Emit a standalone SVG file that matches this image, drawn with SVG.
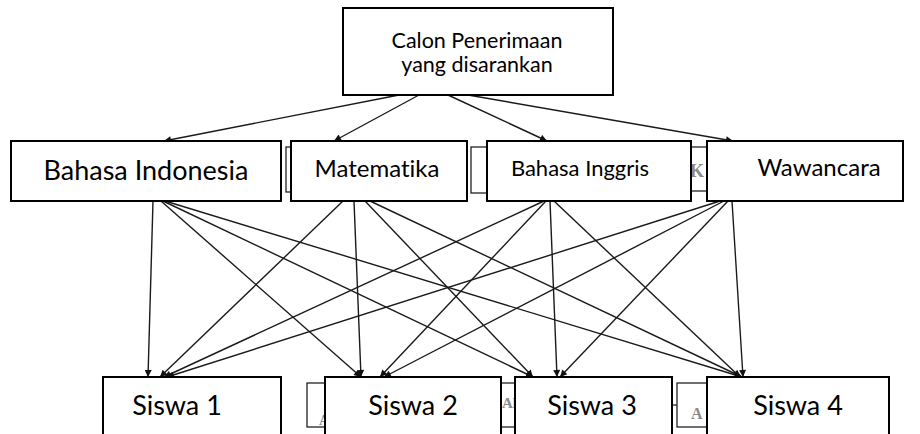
<svg xmlns="http://www.w3.org/2000/svg" width="920" height="434" viewBox="0 0 920 434">
  <style>
    .box { fill: #ffffff; stroke: #000000; stroke-width: 2; }
    .ghost { fill: #ffffff; stroke: #222222; stroke-width: 1.3; }
    .ghost-text { font-family: "Liberation Serif", serif; font-weight: bold; fill: #8a8a8a; }
    .lbl { font-family: Lato, "Open Sans", sans-serif; fill: #000000; text-anchor: middle; font-variant-ligatures: none; }
    .edge { stroke: #1a1a1a; stroke-width: 1.4; fill: none; marker-end: url(#arrow); }
  </style>
  <defs>
    <marker id="arrow" viewBox="0 0 10 10" refX="10" refY="5" markerWidth="9" markerHeight="7" markerUnits="userSpaceOnUse" orient="auto">
      <path d="M0,0 L10,5 L0,10 z" fill="#111111"/>
    </marker>
  </defs>
  <rect width="920" height="434" fill="#ffffff"/>

  <!-- partly hidden back frames -->
  <g id="back-frames">
    <rect class="ghost" x="286" y="147" width="6" height="45"/>
    <rect class="ghost" x="471" y="147" width="17" height="46"/>
    <rect class="ghost" x="690" y="147" width="18" height="44"/>
    <text class="ghost-text" x="690" y="177" font-size="18">K</text>
    <rect class="ghost" x="307" y="383" width="19" height="44"/>
    <text class="ghost-text" x="319" y="425" font-size="14">A</text>
    <rect class="ghost" x="500" y="383" width="16" height="44"/>
    <text class="ghost-text" x="502" y="408" font-size="15">Al</text>
    <line x1="672" y1="405" x2="677" y2="405" stroke="#222" stroke-width="1.3"/>
    <rect class="ghost" x="677" y="383" width="31" height="44"/>
    <text class="ghost-text" x="691" y="419" font-size="16">A</text>
  </g>

  <!-- connectors -->
  <g id="connectors">
    <line class="edge" x1="399" y1="95" x2="164" y2="141"/>
    <line class="edge" x1="419" y1="95" x2="334" y2="141"/>
    <line class="edge" x1="448" y1="95" x2="547" y2="141"/>
    <line class="edge" x1="468" y1="95" x2="733" y2="141"/>

    <line class="edge" x1="153" y1="201" x2="148" y2="377"/>
    <line class="edge" x1="161" y1="201" x2="361" y2="377"/>
    <line class="edge" x1="163" y1="201" x2="533" y2="377"/>
    <line class="edge" x1="165" y1="201" x2="742" y2="377"/>

    <line class="edge" x1="343" y1="201" x2="160" y2="377"/>
    <line class="edge" x1="354" y1="201" x2="361" y2="377"/>
    <line class="edge" x1="365" y1="201" x2="533" y2="377"/>
    <line class="edge" x1="370" y1="201" x2="742" y2="377"/>

    <line class="edge" x1="544" y1="201" x2="164" y2="377"/>
    <line class="edge" x1="546" y1="201" x2="380" y2="377"/>
    <line class="edge" x1="550" y1="201" x2="557" y2="377"/>
    <line class="edge" x1="554" y1="201" x2="740" y2="377"/>

    <line class="edge" x1="720" y1="201" x2="167" y2="377"/>
    <line class="edge" x1="724" y1="201" x2="384" y2="377"/>
    <line class="edge" x1="728" y1="201" x2="560" y2="377"/>
    <line class="edge" x1="732" y1="201" x2="743" y2="377"/>
  </g>

  <!-- goal -->
  <g id="goal">
    <rect class="box" x="343" y="8" width="270" height="87"/>
    <text class="lbl" x="477" y="48" font-size="21.5">Calon Penerimaan</text>
    <text class="lbl" x="477" y="72" font-size="21.5">yang disarankan</text>
  </g>

  <!-- criteria -->
  <g id="bahasa-indonesia">
    <rect class="box" x="11" y="141" width="270" height="60"/>
    <text class="lbl" x="146" y="180" font-size="27">Bahasa Indonesia</text>
  </g>
  <g id="matematika">
    <rect class="box" x="291" y="141" width="176" height="60"/>
    <text class="lbl" x="377" y="177" font-size="24">Matematika</text>
  </g>
  <g id="bahasa-inggris">
    <rect class="box" x="487" y="141" width="204" height="60"/>
    <text class="lbl" x="580" y="176" font-size="22">Bahasa Inggris</text>
  </g>
  <g id="wawancara">
    <rect class="box" x="707" y="141" width="196" height="60"/>
    <text class="lbl" x="819" y="176" font-size="24">Wawancara</text>
  </g>

  <!-- alternatives -->
  <g id="siswa-1">
    <rect class="box" x="103" y="377" width="178" height="70"/>
    <text class="lbl" x="177" y="415" font-size="27">Siswa 1</text>
  </g>
  <g id="siswa-2">
    <rect class="box" x="325" y="377" width="176" height="70"/>
    <text class="lbl" x="413" y="415" font-size="27">Siswa 2</text>
  </g>
  <g id="siswa-3">
    <rect class="box" x="515" y="377" width="157" height="70"/>
    <text class="lbl" x="592" y="415" font-size="27">Siswa 3</text>
  </g>
  <g id="siswa-4">
    <rect class="box" x="707" y="377" width="182" height="70"/>
    <text class="lbl" x="798" y="415" font-size="27">Siswa 4</text>
  </g>
</svg>
